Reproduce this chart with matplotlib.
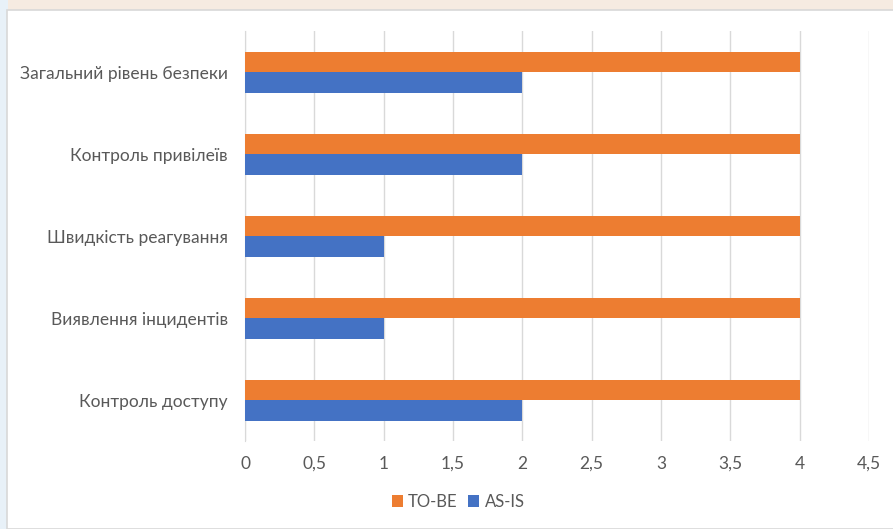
import numpy as np
import matplotlib.pyplot as plt
from matplotlib.patches import Rectangle

categories = ["Контроль доступу", "Виявлення інцидентів", "Швидкість реагування",
              "Контроль привілеїв", "Загальний рівень безпеки"]
to_be = [4, 4, 4, 4, 4]
as_is = [2, 1, 1, 2, 2]
xticks = [0, 0.5, 1, 1.5, 2, 2.5, 3, 3.5, 4, 4.5]
xtick_labels = ["0", "0,5", "1", "1,5", "2", "2,5", "3", "3,5", "4", "4,5"]

ORANGE = "#ed7d31"
BLUE = "#4472c4"
TEXT = "#595959"
GRID = "#d9d9d9"

plt.rcParams["font.family"] = ["Lato", "DejaVu Sans"]

fig = plt.figure(figsize=(8.93, 5.29), dpi=100)
fig.patch.set_facecolor("#f6ebe1")
# bluish strip on the left, white slide panel (behind the axes)
fig.patches.append(Rectangle((0, 0), 8 / 893, 1, transform=fig.transFigure,
                             facecolor="#e8f1f8", edgecolor="none", zorder=-2))
fig.patches.append(Rectangle((7 / 893, 0), 1, 1 - 10 / 529, transform=fig.transFigure,
                             facecolor="white", edgecolor="#d8d8d8", linewidth=1.2, zorder=-1))

ax = fig.add_axes([245 / 893, (529 - 441) / 529, 624 / 893, 410 / 529])
ax.set_facecolor("none")

y = np.arange(len(categories))
h = 0.25
ax.barh(y + h / 2, to_be, height=h, color=ORANGE, label="TO-BE", zorder=3)
ax.barh(y - h / 2, as_is, height=h, color=BLUE, label="AS-IS", zorder=3)

ax.set_xlim(0, 4.5)
ax.set_ylim(-0.5, len(categories) - 0.5)
ax.set_xticks(xticks)
ax.set_xticklabels(xtick_labels)
ax.set_yticks(y)
ax.set_yticklabels(categories)
ax.tick_params(axis="both", length=0, colors=TEXT, labelsize=12.5)
ax.tick_params(axis="x", pad=10.5)
ax.tick_params(axis="y", pad=12.5)
ax.grid(axis="x", color=GRID, linewidth=1, zorder=0)
for s in ["top", "right", "bottom"]:
    ax.spines[s].set_visible(False)
ax.spines["left"].set_color(GRID)

leg = fig.legend(loc="center", bbox_to_anchor=(458 / 893, 1 - 502 / 529), ncol=2,
                 frameon=False, fontsize=12, handlelength=0.7, handleheight=0.7,
                 handletextpad=0.3, columnspacing=0.6)
for t in leg.get_texts():
    t.set_color(TEXT)

fig.savefig("out.png", dpi=100)
